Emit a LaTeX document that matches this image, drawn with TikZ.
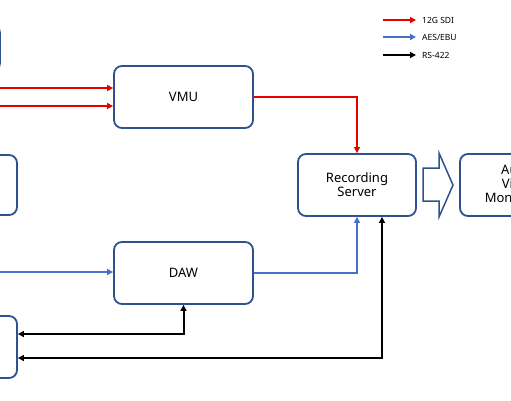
\documentclass[tikz,border=0pt]{standalone}
\usepackage{fontspec}
\setmainfont{Noto Sans}
\usetikzlibrary{arrows.meta}
\definecolor{boxblue}{RGB}{47,82,143}
\definecolor{sigred}{RGB}{232,0,0}
\definecolor{sigblue}{RGB}{68,114,196}
\tikzset{
  unit/.style={draw=boxblue, line width=1.8pt, rounded corners=8pt, fill=white, align=center, font=\fontsize{13}{15}\selectfont, inner sep=0pt},
  tip/.style={-{Triangle[length=6pt,width=6pt]}},
  redline/.style={tip, draw=sigred, line width=2pt},
  blueline/.style={tip, draw=sigblue, line width=1.6pt},
  blackline/.style={tip, draw=black, line width=2pt},
  blackboth/.style={{Triangle[length=6pt,width=6pt]}-{Triangle[length=6pt,width=6pt]}, draw=black, line width=2pt},
  legtext/.style={anchor=west, inner sep=0pt, font=\fontsize{8.5}{10}\selectfont},
}
\begin{document}
\begin{tikzpicture}[x=1pt,y=-1pt]
\useasboundingbox (0,0) rectangle (511,400);
\clip (0,0) rectangle (511,400);
\fill[white] (0,0) rectangle (511,400);
% boxes
\node[unit, minimum width=118pt, minimum height=46pt] (box1) at (-59,48) {};
\node[unit, minimum width=118pt, minimum height=60pt] (box2) at (-42,185) {};
\node[unit, minimum width=118pt, minimum height=62pt] (box3) at (-42,347) {};
\node[unit, minimum width=139pt, minimum height=62pt] (vmu) at (183.5,97) {VMU};
\node[unit, minimum width=139pt, minimum height=62pt] (daw) at (183.5,273) {DAW};
\node[unit, minimum width=118pt, minimum height=62pt] (rs) at (357,185) {Recording\\[-1pt]Server};
\node[unit, minimum width=118pt, minimum height=62pt] (avm) at (519,185) {Audio\\[-1pt]Video\\[-1pt]Monitoring};
% block arrow
\draw[boxblue, line width=1.5pt, fill=white, line join=miter]
  (423,168) -- (439,168) -- (439,153) -- (453,185) -- (439,217) -- (439,201) -- (423,201) -- cycle;
% inputs
\coordinate (inA) at (-5,88);
\coordinate (inB) at (-5,106);
\coordinate (inC) at (-5,272);
\draw[redline] (inA) -- ([yshift=9pt]vmu.west);
\draw[redline] (inB) -- ([yshift=-9pt]vmu.west);
\draw[blueline] (inC) -- (daw.west |- inC);
% vmu -> rs
\draw[redline] (vmu.east) -| (rs.north);
% daw -> rs
\draw[blueline] (daw.east) -| (rs.south);
% rs-422
\draw[blackboth] (daw.south) |- ([yshift=13pt]box3.east);
\draw[blackboth] ([xshift=25pt]rs.south) |- ([yshift=-11pt]box3.east);
% legend
\coordinate (l1a) at (383,20); \coordinate (l1b) at (416,20);
\coordinate (l2a) at (383,37); \coordinate (l2b) at (416,37);
\coordinate (l3a) at (383,55); \coordinate (l3b) at (416,55);
\draw[redline] (l1a) -- (l1b);
\draw[blueline] (l2a) -- (l2b);
\draw[blackline] (l3a) -- (l3b);
\node[legtext] (t1) at (422,20) {12G SDI};
\node[legtext] (t2) at (422,37) {AES/EBU};
\node[legtext] (t3) at (422,55) {RS-422};
\end{tikzpicture}
\end{document}
